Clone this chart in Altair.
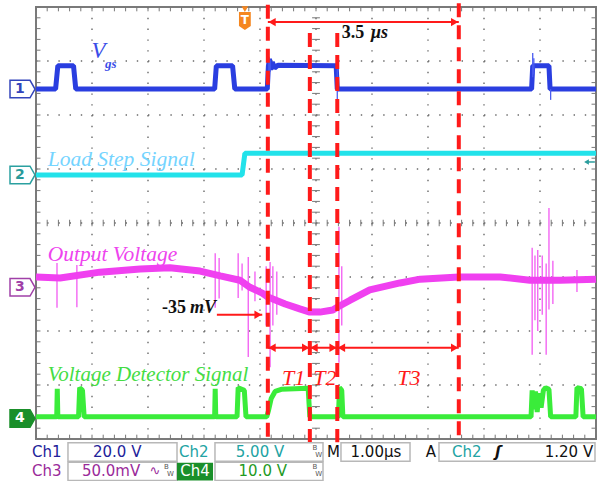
import altair as alt
import pandas as pd

# ---------------- waveform data (x in divisions 0..10, y in divisions -4..4) ----------------
ch1_x = [0, 0.35, 0.39, 0.67, 0.71, 3.19, 3.22, 3.51, 3.55, 4.13, 4.15, 4.17, 4.19, 4.22,
         4.26, 4.32, 5.36, 5.38, 8.85, 8.87, 9.16, 9.18, 10]
ch1_y = [2.48, 2.48, 2.91, 2.91, 2.48, 2.48, 2.91, 2.91, 2.48, 2.48, 2.91, 3.04, 2.84, 2.98,
         2.87, 2.92, 2.91, 2.48, 2.48, 2.91, 2.91, 2.48, 2.48]

ch2_x = [0, 3.68, 3.73, 10]
ch2_y = [0.89, 0.89, 1.29, 1.29]

ch3_x = [0, 0.43, 1.14, 1.86, 2.39, 2.93, 3.29, 3.64, 3.82, 4.04, 4.14, 4.45, 4.71, 4.89,
         5.07, 5.30, 5.38, 5.61, 5.96, 6.50, 6.86, 7.55, 8.29, 8.82, 9.36, 10]
ch3_y = [-1.00, -1.02, -0.91, -0.85, -0.83, -0.89, -0.98, -1.06, -1.19, -1.30, -1.37, -1.50,
         -1.59, -1.65, -1.65, -1.61, -1.56, -1.43, -1.24, -1.11, -1.04, -1.00, -1.00, -1.06,
         -1.06, -1.04]

ch4_x = [0, 0.37, 0.38, 0.39, 0.76, 0.78, 0.83, 0.86, 3.19, 3.20, 3.21, 3.59, 3.61, 3.72,
         3.75, 4.12, 4.15, 4.20, 4.27, 4.38, 4.86, 4.89, 5.40, 5.42, 5.46, 5.48, 8.84, 8.86,
         8.89, 8.92, 8.95, 8.98, 9.02, 9.06, 9.10, 9.16, 9.19, 9.64, 9.66, 9.74, 9.77, 10]
ch4_y = [-3.59, -3.59, -3.07, -3.59, -3.59, -3.05, -3.10, -3.59, -3.59, -3.07, -3.59, -3.59,
         -3.05, -3.10, -3.59, -3.59, -3.48, -3.25, -3.12, -3.08, -3.06, -3.59, -3.59, -3.05,
         -3.10, -3.59, -3.59, -3.10, -3.45, -3.12, -3.50, -3.15, -3.42, -3.10, -3.05, -3.08,
         -3.59, -3.59, -3.05, -3.07, -3.59, -3.59]

# switching spikes: x, top, bottom
ch1_spk_x = [4.16, 4.18, 5.38, 8.87, 8.89, 9.19]
ch1_spk_top = [3.08, 3.03, 2.91, 3.15, 3.05, 2.48]
ch1_spk_bot = [2.75, 2.80, 2.22, 2.70, 2.75, 2.28]

ch3_spk_x = [0.375, 0.73, 3.20, 3.27, 3.61, 3.68, 3.79, 3.91, 4.11, 4.18, 4.23, 4.30, 5.41,
             5.46, 8.86, 8.91, 8.96, 9.04, 9.11, 9.16, 9.23, 9.66]
ch3_spk_top = [-0.74, -0.78, -0.56, -0.65, -0.56, -0.75, -0.63, -0.90, -0.80, -0.72, -0.80,
               -0.90, -0.07, -0.80, -0.46, -0.60, -0.50, -0.60, -0.75, 0.28, -0.70, -0.87]
ch3_spk_bot = [-1.57, -1.56, -1.57, -1.40, -1.39, -1.25, -2.48, -1.45, -1.90, -2.67, -1.90,
               -1.70, -2.59, -1.90, -2.44, -1.80, -2.00, -1.70, -2.44, -1.60, -1.50, -1.28]

# channel ground markers
marker_lbl = ["1", "2", "3", "4"]
marker_y = [2.48, 0.89, -1.19, -3.62]

# timing cursors
cursor_x = [4.14, 4.89, 5.38, 7.55]
cursor_top = [4.04, 3.52, 3.52, 4.07]
cursor_bot = -4.06

# ---------------- scales & helpers ----------------
W, H = 560, 432
XS = alt.Scale(domain=[0, 10], nice=False, zero=False)
YS = alt.Scale(domain=[-4, 4], nice=False, zero=False)
RED = "#ff1a1a"


def xq(f):
    return alt.X(f, type="quantitative", scale=XS, axis=None)


def yq(f):
    return alt.Y(f, type="quantitative", scale=YS, axis=None)


def trace(xs, ys, color, width):
    df = pd.DataFrame({"x": xs, "y": ys, "i": list(range(len(xs)))})
    return alt.Chart(df).mark_line(color=color, strokeWidth=width, strokeJoin="bevel").encode(
        x=xq("x"), y=yq("y"), order=alt.Order("i:Q"))


def vrules(xs, tops, bots, **kw):
    df = pd.DataFrame({"x": xs, "t": tops, "b": bots})
    return alt.Chart(df).mark_rule(**kw).encode(x=xq("x"), y=yq("t"), y2=alt.Y2("b"))


def hrules(ys, lefts, rights, **kw):
    df = pd.DataFrame({"y": ys, "l": lefts, "r": rights})
    return alt.Chart(df).mark_rule(**kw).encode(y=yq("y"), x=xq("l"), x2=alt.X2("r"))


def texts(rows, **kw):
    df = pd.DataFrame(rows, columns=["x", "y", "t"])
    kw.setdefault("baseline", "middle")
    return alt.Chart(df).mark_text(**kw).encode(x=xq("x"), y=yq("y"), text="t:N")


def points(xs, ys, **kw):
    df = pd.DataFrame({"x": xs, "y": ys})
    return alt.Chart(df).mark_point(**kw).encode(x=xq("x"), y=yq("y"))


layers = []

# ---------------- graticule ----------------
minor_x = [k / 5 for k in range(51)]
minor_y = [-4 + k / 5 for k in range(41)]
layers.append(hrules([-3, -2, -1, 0, 1, 2, 3], [0] * 7, [10] * 7,
                     color="#6a6a6a", strokeWidth=1.4, strokeDash=[1.4, 9.8]))
layers.append(vrules(list(range(1, 10)), [4] * 9, [-4] * 9,
                     color="#6a6a6a", strokeWidth=1.4, strokeDash=[1.4, 9.4]))
# centre-line ticks
layers.append(vrules(minor_x, [0.06] * 51, [-0.06] * 51, color="#777777", strokeWidth=1))
layers.append(hrules(minor_y, [4.93] * 41, [5.07] * 41, color="#777777", strokeWidth=1))
# edge ticks
layers.append(vrules(minor_x, [4] * 51, [3.92] * 51, color="#777777", strokeWidth=1))
layers.append(vrules(minor_x, [-4] * 51, [-3.92] * 51, color="#777777", strokeWidth=1))
layers.append(hrules(minor_y, [0] * 41, [0.08] * 41, color="#777777", strokeWidth=1))
layers.append(hrules(minor_y, [9.92] * 41, [10] * 41, color="#777777", strokeWidth=1))

# ---------------- traces ----------------
layers.append(trace(ch2_x, ch2_y, "#22e2ea", 5))
layers.append(trace(ch1_x, ch1_y, "#2a3ee0", 5))
layers.append(vrules(ch1_spk_x, ch1_spk_top, ch1_spk_bot, color="#4a5cf0", strokeWidth=1.3))
layers.append(vrules(ch3_spk_x, ch3_spk_top, ch3_spk_bot, color="#f25af2", strokeWidth=1.3))
layers.append(trace(ch3_x, ch3_y, "#f040f0", 7))
layers.append(trace(ch4_x, ch4_y, "#3aec3a", 5))

# trigger level arrow (right edge)
layers.append(hrules([1.13], [9.84], [9.98], color="#2a9d9d", strokeWidth=1.5))
layers.append(points([9.83], [1.13], shape="triangle-left", size=30, filled=True,
                     color="#2a9d9d", opacity=1))

# ---------------- channel labels ----------------
serif = "Liberation Serif"
layers.append(texts([[0.99, 3.19, "V"]], font=serif, fontSize=23, fontStyle="italic",
                     color="#3a4de8", align="left"))
layers.append(texts([[1.23, 2.94, "gs"]], font=serif, fontSize=13, fontStyle="italic",
                     fontWeight="bold", color="#3a4de8", align="left"))
layers.append(texts([[0.21, 1.17, "Load Step Signal"]], font=serif, fontSize=21.5,
                     fontStyle="italic", color="#74d4ff", align="left"))
layers.append(texts([[0.21, -0.59, "Output Voltage"]], font=serif, fontSize=21.5,
                     fontStyle="italic", color="#ee44ee", align="left"))
layers.append(texts([[0.21, -2.81, "Voltage Detector Signal"]], font=serif, fontSize=21,
                     fontStyle="italic", color="#44dd44", align="left"))

# ---------------- cursors & measurements ----------------
layers.append(vrules(cursor_x, cursor_top, [cursor_bot] * 4, color=RED, strokeWidth=4,
                     strokeDash=[14, 8]))

head = 0.075
arrow_y_top = 3.72
arrow_y_t = -2.31
shaft_l = [cursor_x[0], cursor_x[0], cursor_x[1], cursor_x[2]]
shaft_r = [cursor_x[3], cursor_x[1], cursor_x[2], cursor_x[3]]
shaft_y = [arrow_y_top, arrow_y_t, arrow_y_t, arrow_y_t]
layers.append(hrules(shaft_y, shaft_l, shaft_r, color=RED, strokeWidth=2))
layers.append(hrules([-1.70], [3.23], [cursor_x[0] - 0.1], color=RED, strokeWidth=2))
layers.append(points([l + head for l in shaft_l], shaft_y, shape="triangle-left", size=70,
                     filled=True, color=RED, opacity=1))
layers.append(points([r - head for r in shaft_r] + [cursor_x[0] - 0.1 - head],
                     shaft_y + [-1.70], shape="triangle-right", size=70,
                     filled=True, color=RED, opacity=1))

layers.append(texts([[5.46, 3.52, "3.5"]], font=serif, fontSize=18, fontWeight="bold",
                     color="#111111", align="left"))
layers.append(texts([[5.98, 3.52, "μs"]], font=serif, fontSize=18, fontWeight="bold",
                     fontStyle="italic", color="#111111", align="left"))
layers.append(texts([[2.68, -1.57, "-35"]], font=serif, fontSize=18, fontWeight="bold",
                     color="#111111", align="right"))
layers.append(texts([[2.75, -1.57, "mV"]], font=serif, fontSize=18, fontWeight="bold",
                     fontStyle="italic", color="#111111", align="left"))
layers.append(texts([[4.6, -2.87, "T1"], [5.16, -2.87, "T2"], [6.66, -2.87, "T3"]],
                     font=serif, fontSize=22, fontStyle="italic", color=RED, align="center"))

# ---------------- trigger marker ----------------
ORANGE = "#f5861f"
layers.append(points([3.73], [3.96], shape="triangle-down", size=45, filled=True,
                     color=ORANGE, opacity=1))
layers.append(points([3.73], [3.74], shape="M-0.65,-1L0.65,-1L0.65,0.55L0,1L-0.65,0.55Z",
                     size=330, filled=True, color=ORANGE, opacity=1))
layers.append(texts([[3.73, 3.76, "T"]], font="DejaVu Sans", fontSize=12, fontWeight="bold",
                     color="white", align="center"))

# ---------------- channel ground markers ----------------
mk_path = "M-1,-0.7L0.6,-0.7L1,0L0.6,0.7L-1,0.7Z"
mk_stroke = ["#3344bb", "#2aa0a0", "#a040a8", "#1a8f2a"]
mk_fill = ["white", "white", "white", "#1a8f2a"]
mk_text = ["#3344bb", "#2a9a9a", "#a040a8", "white"]
for lbl, yv, sc, fc, tc in zip(marker_lbl, marker_y, mk_stroke, mk_fill, mk_text):
    layers.append(points([-0.241], [yv], shape=mk_path, size=625, filled=False, fill=fc,
                         fillOpacity=1, stroke=sc, strokeWidth=1.5, opacity=1))
    layers.append(texts([[-0.29, yv, lbl]], font="DejaVu Sans", fontSize=14,
                         fontWeight="bold", color=tc, align="center"))

# ---------------- status bar ----------------
r1, r2 = -4.24, -4.59
box_l = [0.571, 3.196, 5.446, 7.196, 0.571, 3.196]
box_r = [2.518, 5.125, 6.679, 9.982, 2.518, 5.125]
box_t = [-4.07, -4.07, -4.07, -4.07, -4.43, -4.43]
box_b = [-4.41, -4.41, -4.41, -4.41, -4.77, -4.77]
bdf = pd.DataFrame({"l": box_l, "r": box_r, "t": box_t, "b": box_b})
layers.append(alt.Chart(bdf).mark_rect(fill="white", stroke="#b8b8b8", strokeWidth=1.5).encode(
    x=xq("l"), x2=alt.X2("r"), y=yq("t"), y2=alt.Y2("b")))
gdf = pd.DataFrame({"l": [2.518], "r": [3.161], "t": [-4.44], "b": [-4.77]})
layers.append(alt.Chart(gdf).mark_rect(fill="#1a8f2a").encode(
    x=xq("l"), x2=alt.X2("r"), y=yq("t"), y2=alt.Y2("b")))

sans = "DejaVu Sans"
layers.append(texts([[-0.07, r1, "Ch1"]], font=sans, fontSize=15, color="#22229a",
                     align="left"))
layers.append(texts([[1.45, r1, "20.0 V"]], font=sans, fontSize=15, color="#22229a",
                     align="center"))
layers.append(texts([[2.554, r1, "Ch2"], [7.43, r1, "Ch2"]], font=sans, fontSize=15,
                     color="#22a3a3", align="left"))
layers.append(texts([[4.0, r1, "5.00 V"]], font=sans, fontSize=15, color="#22a3a3",
                     align="center"))
layers.append(texts([[5.196, r1, "M"], [6.96, r1, "A"]], font=sans, fontSize=15,
                     color="#111111", align="left"))
layers.append(texts([[6.07, r1, "1.00μs"]], font=sans, fontSize=15, color="#111111",
                     align="center"))
layers.append(texts([[8.25, r1, "ʃ"]], font=sans, fontSize=15, fontWeight="bold",
                     fontStyle="italic", color="#111111", align="center"))
layers.append(texts([[9.95, r1, "1.20 V"]], font=sans, fontSize=15, color="#111111",
                     align="right"))
layers.append(texts([[-0.07, r2, "Ch3"], [0.82, r2, "50.0mV"]], font=sans, fontSize=15,
                     color="#9a2a9a", align="left"))
layers.append(texts([[2.125, r2, "∿"]], font=sans, fontSize=13, color="#9a2a9a",
                     align="center"))
layers.append(texts([[2.84, r2, "Ch4"]], font=sans, fontSize=15, color="white",
                     align="center"))
layers.append(texts([[4.05, r2, "10.0 V"]], font=sans, fontSize=15, color="#1f9a1f",
                     align="center"))
# bandwidth-limit flags
layers.append(texts([[4.98, r1 + 0.08, "B"], [4.98, r2 + 0.08, "B"], [2.33, r2 + 0.08, "B"]],
                     font=sans, fontSize=7, color="#555555", align="center"))
layers.append(texts([[5.05, r1 - 0.06, "W"], [5.05, r2 - 0.06, "W"], [2.40, r2 - 0.06, "W"]],
                     font=sans, fontSize=7, color="#555555", align="center"))

chart = alt.layer(*layers).properties(
    width=W, height=H,
    padding={"left": 36, "top": 7, "right": 5, "bottom": 42},
    autosize=alt.AutoSizeParams(type="none"),
    background="white",
).configure_view(stroke="#7a7a7a", strokeWidth=2)

chart.save("out.html", embed_options={"renderer": "svg", "actions": False})
